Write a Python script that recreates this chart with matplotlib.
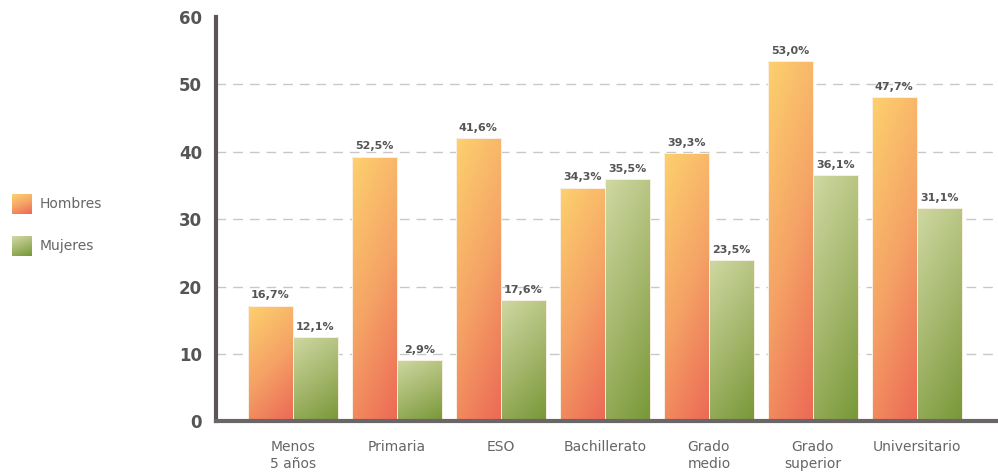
import numpy as np
import matplotlib.pyplot as plt
from matplotlib.colors import LinearSegmentedColormap
from matplotlib.patches import Rectangle


categories = ["Menos\n5 años", "Primaria", "ESO", "Bachillerato",
              "Grado\nmedio", "Grado\nsuperior", "Universitario"]
hombres = [17.2, 39.3, 42.0, 34.7, 39.8, 53.4, 48.1]
mujeres = [12.5, 9.1, 18.0, 35.9, 23.9, 36.5, 31.6]
hombres_labels = ["16,7%", "52,5%", "41,6%", "34,3%", "39,3%", "53,0%", "47,7%"]
mujeres_labels = ["12,1%", "2,9%", "17,6%", "35,5%", "23,5%", "36,1%", "31,1%"]
yticks = [0, 10, 20, 30, 40, 50, 60]

cmap_h = LinearSegmentedColormap.from_list("h", ["#FDD06E", "#F5A466", "#EC6955"])
cmap_m = LinearSegmentedColormap.from_list("m", ["#CFD8A2", "#A6B86E", "#789838"])


def gradient(ny=80, nx=20):
    """ diagonal gradient, 0 at top-left, 1 at bottom-right """
    yy, xx = np.mgrid[0:ny, 0:nx]
    return 0.72 * yy / (ny - 1) + 0.28 * xx / (nx - 1)


def grad_bar(ax, x0, w, h, cmap):
    rect = Rectangle((x0, 0), w, h, facecolor="none", edgecolor="#FBF1E6",
                     linewidth=0.7, zorder=3)
    ax.add_patch(rect)
    im = ax.imshow(gradient(), cmap=cmap, extent=(x0, x0 + w, 0, h),
                   aspect="auto", zorder=2, interpolation="bilinear")
    im.set_clip_path(rect)


fig = plt.figure(figsize=(9.98, 4.72), dpi=100)
ax = fig.add_axes([0.2164, 0.107, 0.7836, 0.857])

w = 0.433
x = np.arange(len(categories))
for i in x:
    grad_bar(ax, i - w, w, hombres[i], cmap_h)
    grad_bar(ax, i, w, mujeres[i], cmap_m)
    ax.text(i - w / 2, hombres[i] + 0.8, hombres_labels[i], ha="center", va="bottom",
            fontsize=8, fontweight="bold", color="#555555")
    ax.text(i + w / 2, mujeres[i] + 0.8, mujeres_labels[i], ha="center", va="bottom",
            fontsize=8, fontweight="bold", color="#555555")

for y in yticks[1:-1]:
    ax.axhline(y, color="#C8C8C8", linewidth=1.0, linestyle=(0, (7, 5)), zorder=1)

ax.set_xlim(-0.74, 6.78)
ax.set_ylim(0, 60)
ax.set_yticks(yticks)
ax.set_yticklabels([str(t) for t in yticks], fontsize=12, fontweight="bold", color="#555555")
ax.set_xticks(x)
ax.set_xticklabels(categories, fontsize=10, color="#666666", linespacing=1.3)
ax.tick_params(axis="both", length=0)
ax.tick_params(axis="y", pad=10)
ax.tick_params(axis="x", pad=13)

for s in ["top", "right"]:
    ax.spines[s].set_visible(False)
ax.spines["left"].set_linewidth(3)
ax.spines["left"].set_color("#5A5657")
ax.spines["bottom"].set_linewidth(3)
ax.spines["bottom"].set_color("#6A6667")
ax.spines["left"].set_zorder(5)
ax.spines["bottom"].set_zorder(5)

# legend with gradient squares
for yb, cmap, name in [(0.547, cmap_h, "Hombres"), (0.458, cmap_m, "Mujeres")]:
    lax = fig.add_axes([0.012, yb, 0.020, 0.041])
    lax.imshow(gradient(20, 20), cmap=cmap, aspect="auto", interpolation="bilinear")
    lax.axis("off")
    fig.text(0.040, yb + 0.020, name, fontsize=10, color="#666666", va="center")

plt.savefig("out.png", dpi=100)
